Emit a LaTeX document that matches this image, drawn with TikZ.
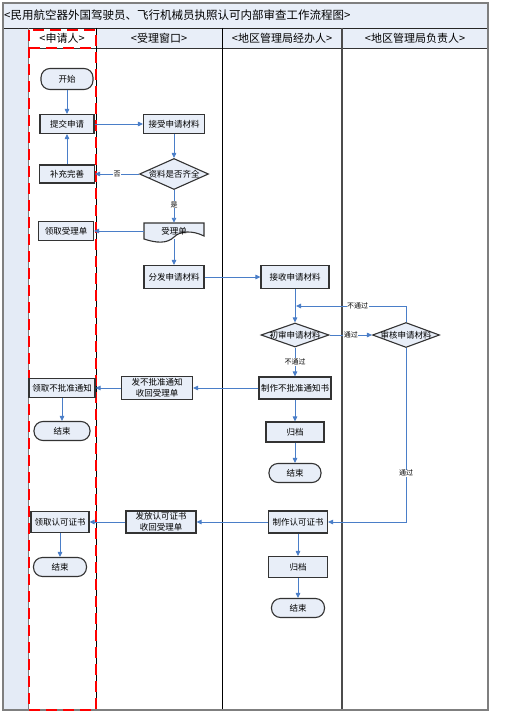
\documentclass[tikz,border=0pt]{standalone}
\usepackage{fontspec}
\setmainfont{Noto Sans CJK SC}
\usetikzlibrary{shapes.geometric,arrows.meta}
\definecolor{nodefill}{HTML}{E8EEF8}
\definecolor{stripfill}{HTML}{E4EBF6}
\definecolor{arrowblue}{HTML}{4A7EC8}
\definecolor{framegray}{HTML}{7F7F7F}
\tikzset{
  box/.style={draw=black!80, line width=1.1pt, fill=nodefill, inner sep=0pt, align=center,
    font=\fontsize{8.5}{10}\selectfont},
  proc/.style={box, rectangle},
  term/.style={box, rectangle, rounded corners=9pt},
  decision/.style={box, diamond, inner sep=0pt},
  arr/.style={draw=arrowblue, line width=0.9pt, -{Triangle[length=5pt,width=4.5pt]}},
  lbl/.style={fill=white, inner sep=0.6pt, font=\fontsize{7}{8}\selectfont},
  hdr/.style={font=\fontsize{11}{12}\selectfont, inner sep=0pt},
}
\begin{document}
\begin{tikzpicture}[x=1pt,y=-1pt]
\useasboundingbox (0,0) rectangle (511,717);
% backgrounds
\fill[white] (0,0) rectangle (511,717);
\fill[nodefill] (3,3) rectangle (488,28);
\fill[nodefill] (96,28) rectangle (488,48);
\fill[stripfill] (3,28) rectangle (28,710);
% lane lines
\draw[black!85, line width=0.9pt] (3,28) -- (488,28);
\draw[black!80, line width=0.9pt] (28,48) -- (488,48);
\draw[framegray, line width=1pt] (28,28) -- (28,710);
\draw[black, line width=0.9pt] (96,28) -- (96,710);
\draw[black, line width=0.9pt] (222,28) -- (222,710);
\draw[black!70, line width=1.3pt] (342,28) -- (342,710);
\draw[framegray, line width=1.3pt] (3,3) rectangle (488,710);
% red dashed lane
\draw[red, line width=1.6pt, dash pattern=on 11pt off 6pt] (29,30) rectangle (96,710);
\draw[red, line width=1.6pt, dash pattern=on 11pt off 6pt] (29,48) -- (96,48);
% title and headers
\node[hdr, anchor=west, font=\fontsize{11.5}{12}\selectfont] (title) at (4,15.5) {<民用航空器外国驾驶员、飞行机械员执照认可内部审查工作流程图>};
\node[hdr] (h1) at (62,38.5) {<申请人>};
\node[hdr] (h2) at (159,38.5) {<受理窗口>};
\node[hdr] (h3) at (282,38.5) {<地区管理局经办人>};
\node[hdr] (h4) at (415,38.5) {<地区管理局负责人>};
% document shape
\draw[black!80, line width=1.1pt, fill=nodefill] (144,223) -- (204,223) -- (204,236)
  .. controls (192,230) and (180,231) .. (174,237)
  .. controls (167,244) and (156,243) .. (144,239) -- cycle;
% nodes
\node[term, minimum width=52pt, minimum height=21pt] (start) at (67,79) {开始};
\node[proc, minimum width=54pt, minimum height=19pt] (submit) at (67,124) {提交申请};
\node[proc, minimum width=61pt, minimum height=19pt] (recv) at (174,124) {接受申请材料};
\node[decision, minimum width=69pt, minimum height=31pt] (check) at (174,174) {\makebox[0pt]{资料是否齐全}};
\node[proc, minimum width=55pt, minimum height=18pt] (supp) at (67,174) {补充完善};
\node[inner sep=0pt, minimum width=60pt, minimum height=16pt, font=\fontsize{8.5}{10}\selectfont] (slip) at (174,231) {受理单};
\node[proc, minimum width=55pt, minimum height=19pt] (getslip) at (66,231) {领取受理单};
\node[proc, minimum width=60pt, minimum height=23pt] (dist) at (174,277) {分发申请材料};
\node[proc, minimum width=68pt, minimum height=23pt] (accept) at (295,277) {接收申请材料};
\node[decision, minimum width=68pt, minimum height=24pt] (prelim) at (295,335) {\makebox[0pt]{初审申请材料}};
\node[decision, minimum width=67pt, minimum height=25pt] (review) at (406,335) {\makebox[0pt]{审核申请材料}};
\node[proc, minimum width=72pt, minimum height=22pt] (mkrej) at (295,388) {制作不批准通知书};
\node[proc, minimum width=71pt, minimum height=23pt, font=\fontsize{8.5}{10.5}\selectfont] (sendrej) at (157,388) {发不批准通知\\收回受理单};
\node[proc, minimum width=66pt, minimum height=19pt] (getrej) at (62,388) {领取不批准通知};
\node[term, minimum width=56pt, minimum height=19pt] (end1) at (62,431) {结束};
\node[proc, minimum width=58pt, minimum height=20pt] (arch1) at (295,432) {归档};
\node[term, minimum width=52pt, minimum height=19pt] (end2) at (295,473) {结束};
\node[proc, minimum width=59pt, minimum height=22pt] (mkcert) at (298,522) {制作认可证书};
\node[proc, minimum width=70pt, minimum height=22pt, font=\fontsize{8.5}{10.5}\selectfont] (issue) at (161,522) {发放认可证书\\收回受理单};
\node[proc, minimum width=58pt, minimum height=21pt] (getcert) at (60,522) {领取认可证书};
\node[term, minimum width=53pt, minimum height=19pt] (end3) at (60,567) {结束};
\node[proc, minimum width=59pt, minimum height=21pt] (arch2) at (298,567) {归档};
\node[term, minimum width=53pt, minimum height=19pt] (end4) at (298,608) {结束};
\coordinate (fb) at (296,306);
% connectors
\draw[arr] (start) -- (submit);
\draw[arr] (submit) -- (recv);
\draw[arr] (recv) -- (check);
\draw[arr] (check) -- node[lbl, pos=0.5] (no) {否} (supp);
\draw[arr] (supp) -- (submit);
\draw[arr] (check) -- node[lbl, pos=0.45] (yes) {是} (slip);
\draw[arr] (slip) -- (getslip);
\draw[arr] (slip) -- (dist);
\draw[arr] (dist) -- (accept);
\draw[arr] (accept) -- (prelim);
\draw[arr] (prelim) -- node[lbl, pos=0.5] (pass1) {通过} (review);
\draw[arr] (review.north) |- node[lbl, pos=0.72] (fail2) {不通过} (fb);
\draw[arr] (prelim) -- node[lbl, pos=0.5] (fail1) {不通过} (mkrej);
\draw[arr] (mkrej) -- (sendrej);
\draw[arr] (sendrej) -- (getrej);
\draw[arr] (getrej) -- (end1);
\draw[arr] (mkrej) -- (arch1);
\draw[arr] (arch1) -- (end2);
\draw[arr] (review.south) |- node[lbl, pos=0.36] (pass2) {通过} (mkcert.east);
\draw[arr] (mkcert) -- (issue);
\draw[arr] (issue) -- (getcert);
\draw[arr] (getcert) -- (end3);
\draw[arr] (mkcert) -- (arch2);
\draw[arr] (arch2) -- (end4);
\end{tikzpicture}
\end{document}
